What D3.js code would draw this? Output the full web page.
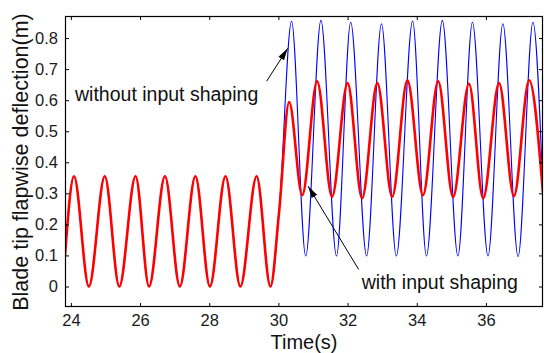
<!DOCTYPE html>
<html>
<head>
<meta charset="utf-8">
<script src="https://cdn.jsdelivr.net/npm/d3@7"></script>
<style>
  html, body { margin: 0; padding: 0; background: #fff; }
  svg { display: block; font-family: Arial, "Liberation Sans", Helvetica, sans-serif; }
  .tick-label { font-size: 16.5px; fill: #1a1a1a; }
  .axis-title { font-size: 21.5px; fill: #111; }
  .x-title { font-size: 20px; }
  .note { font-size: 19.5px; fill: #111; }
</style>
</head>
<body>
<svg id="chart" width="544" height="353"></svg>
<script>
(function () {
  "use strict";

  // Shared part (both runs identical before the step at t = 30 s):
  // peaks / troughs.
  const preTime = [23.83, 24.09, 24.52, 24.98, 25.40, 25.87, 26.26, 26.72, 27.15,
    27.60, 28.02, 28.47, 28.90, 29.37, 29.77, 30.02];
  const preValue = [0.10, 0.355, 0.0, 0.355, 0.0, 0.355, 0.0, 0.355, 0.0,
    0.355, 0.0, 0.355, 0.0, 0.355, 0.0, 0.24];

  // without input shaping (blue)
  const blueTime = [30.38, 30.79, 31.23, 31.68, 32.09, 32.55, 32.98, 33.41, 33.88,
    34.28, 34.74, 35.19, 35.61, 36.06, 36.49, 36.93, 37.36, 37.65];
  const blueValue = [0.854, 0.098, 0.857, 0.098, 0.851, 0.098, 0.846, 0.098, 0.855,
    0.098, 0.857, 0.098, 0.851, 0.098, 0.846, 0.096, 0.851, 0.30];

  // with input shaping (red)
  const redTime = [30.31, 30.69, 31.12, 31.55, 32.00, 32.42, 32.86, 33.29, 33.73,
    34.18, 34.62, 35.05, 35.51, 35.92, 36.38, 36.81, 37.25, 37.65];
  const redValue = [0.594, 0.294, 0.661, 0.289, 0.655, 0.284, 0.655, 0.289, 0.664,
    0.294, 0.661, 0.288, 0.653, 0.284, 0.655, 0.291, 0.664, 0.30];

  const xTicks = [24, 26, 28, 30, 32, 34, 36];
  const yTicks = [0, 0.1, 0.2, 0.3, 0.4, 0.5, 0.6, 0.7, 0.8];
  const yTickLabels = ["0", "0.1", "0.2", "0.3", "0.4", "0.5", "0.6", "0.7", "0.8"];

  const W = 544, H = 353;
  const M = { top: 16, right: 1, bottom: 46, left: 65 };
  const TICK = 4;

  const svg = d3.select("#chart");

  const x = d3.scaleLinear().domain([23.83, 37.65]).range([M.left, W - M.right]);
  const y = d3.scaleLinear().domain([-0.066, 0.871]).range([H - M.bottom, M.top]);

  svg.append("defs").append("clipPath").attr("id", "plot-clip")
    .append("rect")
    .attr("x", M.left).attr("y", M.top)
    .attr("width", W - M.left - M.right).attr("height", H - M.top - M.bottom);

  const toPts = (ts, vs) => d3.zip(ts, vs);
  const blueData = toPts(preTime, preValue).concat(toPts(blueTime, blueValue));
  const redData = toPts(preTime, preValue).concat(toPts(redTime, redValue));

  const line = d3.line()
    .x((d) => x(d[0]))
    .y((d) => y(d[1]))
    .curve(d3.curveMonotoneX);

  const plot = svg.append("g").attr("clip-path", "url(#plot-clip)");
  plot.append("path").datum(blueData)
    .attr("d", line).attr("fill", "none")
    .attr("stroke", "#0000ff").attr("stroke-width", 1.1);
  plot.append("path").datum(redData)
    .attr("d", line).attr("fill", "none")
    .attr("stroke", "#ff0000").attr("stroke-width", 2.6)
    .attr("stroke-linejoin", "round");

  // Axes: MATLAB style box with inward ticks on all four sides
  const fmtY = (d, i) => yTickLabels[i];
  const axB = d3.axisBottom(x).tickValues(xTicks).tickSizeInner(-TICK).tickSizeOuter(0).tickPadding(7);
  const axT = d3.axisTop(x).tickValues(xTicks).tickSizeInner(-TICK).tickSizeOuter(0).tickFormat("");
  const axL = d3.axisLeft(y).tickValues(yTicks).tickSizeInner(-TICK).tickSizeOuter(0).tickPadding(7).tickFormat(fmtY);
  const axR = d3.axisRight(y).tickValues(yTicks).tickSizeInner(-TICK).tickSizeOuter(0).tickFormat("");

  function styleAxis(g) {
    g.select(".domain").remove();
    g.selectAll(".tick line").attr("stroke", "#000");
    g.selectAll(".tick text").attr("class", "tick-label").attr("font-family", null).attr("font-size", null);
  }
  svg.append("g").attr("transform", `translate(0,${H - M.bottom})`).call(axB).call(styleAxis);
  svg.append("g").attr("transform", `translate(0,${M.top})`).call(axT).call(styleAxis);
  svg.append("g").attr("transform", `translate(${M.left},0)`).call(axL).call(styleAxis);
  svg.append("g").attr("transform", `translate(${W - M.right},0)`).call(axR).call(styleAxis);

  svg.append("rect")
    .attr("x", M.left + 0.5).attr("y", M.top + 0.5)
    .attr("width", W - M.left - M.right - 1).attr("height", H - M.top - M.bottom - 1)
    .attr("fill", "none").attr("stroke", "#000").attr("stroke-width", 1.2);

  svg.append("text").attr("class", "axis-title x-title")
    .attr("x", (M.left + W - M.right) / 2).attr("y", 348.5)
    .attr("text-anchor", "middle").text("Time(s)");

  svg.append("text").attr("class", "axis-title")
    .attr("transform", `translate(28,${162}) rotate(-90)`)
    .attr("text-anchor", "middle").text("Blade tip flapwise deflection(m)");

  // Annotations (placed in data coordinates, like MATLAB's text/annotation)
  const marker = svg.select("defs").append("marker")
    .attr("id", "arrow").attr("viewBox", "0 0 12 8")
    .attr("refX", 12).attr("refY", 4)
    .attr("markerUnits", "userSpaceOnUse")
    .attr("markerWidth", 13).attr("markerHeight", 8)
    .attr("orient", "auto");
  marker.append("path").attr("d", "M0,0.8 L12,4 L0,7.2 Z").attr("fill", "#000");

  const notes = [
    { text: "without input shaping", tx: 24.12, ty: 0.596, from: [29.66, 0.661], to: [30.27, 0.767] },
    { text: "with input shaping", tx: 32.41, ty: -0.008, from: [32.32, 0.055], to: [30.86, 0.323] },
  ];
  notes.forEach((n) => {
    svg.append("line")
      .attr("x1", x(n.from[0])).attr("y1", y(n.from[1]))
      .attr("x2", x(n.to[0])).attr("y2", y(n.to[1]))
      .attr("stroke", "#000").attr("stroke-width", 1)
      .attr("marker-end", "url(#arrow)");
    svg.append("text").attr("class", "note")
      .attr("x", x(n.tx)).attr("y", y(n.ty)).text(n.text);
  });
})();
</script>
</body>
</html>
